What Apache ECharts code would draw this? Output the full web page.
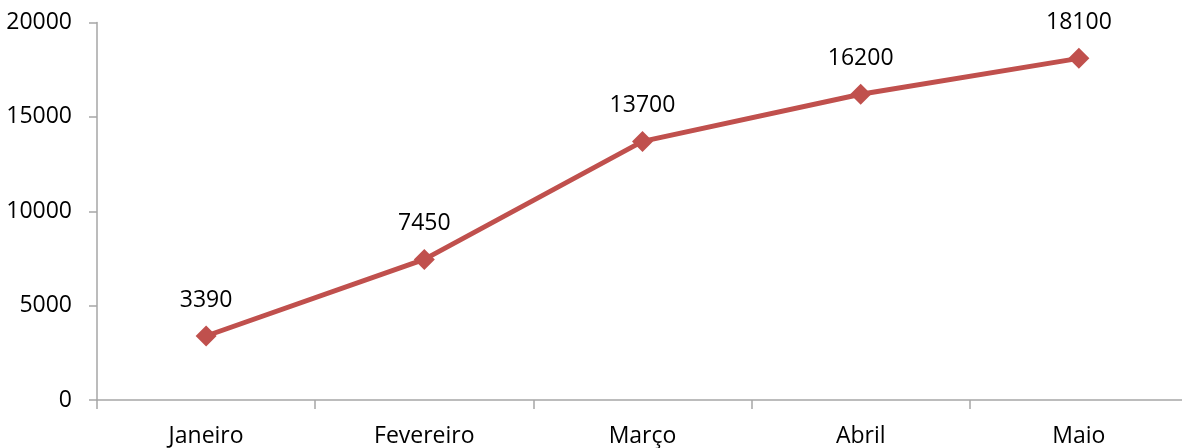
<!DOCTYPE html>
<html>
<head>
<meta charset="utf-8">
<script src="https://cdn.jsdelivr.net/npm/echarts@6/dist/echarts.min.js"></script>
<style>
  html, body { margin: 0; padding: 0; background: #fff; overflow: hidden; }
  /* canvas is a few pixels wider than the window so the plot runs off the right edge */
  #chart { width: 1188px; height: 448px; }
</style>
</head>
<body>
<div id="chart"></div>
<script>
// Monthly values
const months = ['Janeiro', 'Fevereiro', 'Março', 'Abril', 'Maio'];
const values = [3390, 7450, 13700, 16200, 18100];
const yTicks = [0, 5000, 10000, 15000, 20000];

const axisGray = '#a6a6a6';
const textFont = { fontFamily: 'Open Sans', fontSize: 23, color: '#000' };

const chart = echarts.init(document.getElementById('chart'));
chart.setOption({
  animation: false,
  backgroundColor: '#fff',
  grid: { left: 97, right: 0, top: 22.5, bottom: 47, containLabel: false },
  xAxis: {
    type: 'category',
    data: months,
    boundaryGap: true,
    axisLine: { show: true, lineStyle: { color: axisGray, width: 1.5 } },
    axisTick: { show: true, length: 9, lineStyle: { color: axisGray, width: 1.5 } },
    axisLabel: Object.assign({ margin: 25, interval: 0 }, textFont),
    splitLine: { show: false }
  },
  yAxis: {
    type: 'value',
    min: yTicks[0],
    max: yTicks[yTicks.length - 1],
    interval: yTicks[1] - yTicks[0],
    axisLine: { show: true, lineStyle: { color: axisGray, width: 1.5 } },
    axisTick: { show: true, length: 8, lineStyle: { color: axisGray, width: 1.5 } },
    axisLabel: Object.assign({ margin: 25, formatter: v => String(v) }, textFont),
    splitLine: { show: false }
  },
  series: [{
    type: 'line',
    data: values,
    symbol: 'diamond',
    symbolSize: 21,
    lineStyle: { color: '#c0504d', width: 5 },
    itemStyle: { color: '#c0504d' },
    label: Object.assign({ show: true, position: 'top', distance: 14 }, textFont)
  }]
});
</script>
</body>
</html>
